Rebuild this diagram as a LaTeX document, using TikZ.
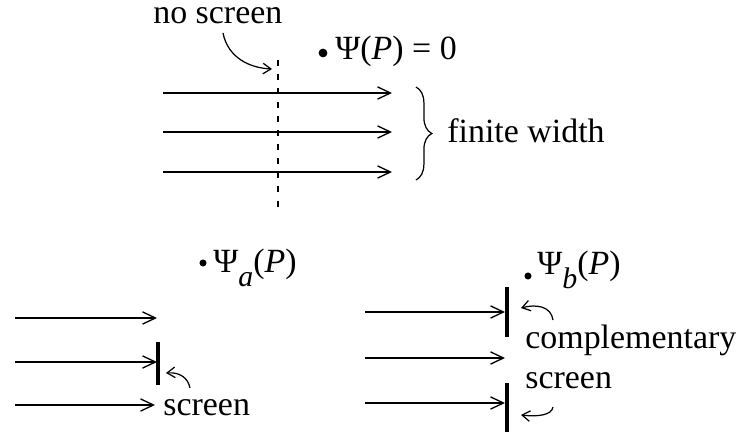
\documentclass[tikz,border=0pt]{standalone}
\usepackage{fontspec}
\setmainfont{Liberation Serif}
\usetikzlibrary{arrows.meta,decorations.pathreplacing}

\begin{document}
\begin{tikzpicture}[
  x=0.02cm,y=-0.02cm,
  font=\fontsize{19.3}{23}\selectfont,
  ray/.style={-{Straight Barb[length=7.4pt,width=7pt]},line width=0.75pt},
  pointer/.style={-{Straight Barb[length=4.5pt,width=6pt]},line width=0.7pt},
  screenbar/.style={line width=2.8pt},
  dot/.style={circle,fill,inner sep=0pt,minimum size=4pt},
  lbl/.style={anchor=base west,inner sep=0pt}
]
\useasboundingbox (0,0) rectangle (740,435);

% ---------- Top: no screen
\node[lbl,text height=0.5em] (noscr) at (153,24) {no screen};
\draw[dash pattern=on 3.4pt off 4.6pt,line width=0.6pt] (278,60) coordinate (dtop) -- (278,212) coordinate (dbot);
\coordinate (noscrtip) at (272,69);
\draw[pointer] (223,33) .. controls (228,58) and (250,68) .. (noscrtip);
\node[dot,minimum size=5pt] (p0) at (323,53) {};
\node[lbl] (psi0) at (335,60) {Ψ(\textit{P}) = 0};
\foreach \y [count=\i] in {93,132,172}{
  \coordinate (ts\i) at (163,\y);
  \coordinate (te\i) at (392,\y);
  \draw[ray] (ts\i) -- (te\i);
}
\draw[decorate,decoration={brace,amplitude=9pt},line width=0.7pt] (416,87) coordinate (bt) -- (416,180) coordinate (bb);
\node[lbl] (width) at (447,143) {finite width};

% ---------- Bottom left: screen
\node[dot] (pa) at (203,263) {};
\node[lbl] (psia) at (213,273) {Ψ\raisebox{-0.4em}{\fontsize{17}{20}\selectfont\textit{a}}(\textit{P})};
\foreach \y/\e [count=\i] in {318/157,362/157,405/155}{
  \coordinate (as\i) at (15,\y);
  \coordinate (ae\i) at (\e,\y);
  \draw[ray] (as\i) -- (ae\i);
}
\draw[screenbar] (158,342) coordinate (sa1) -- (158,385) coordinate (sa2);
\node[lbl] (scra) at (163,415) {screen};
\draw[pointer] (190,388) .. controls (188,378) and (180,372) .. (166,373);

% ---------- Bottom right: complementary screen
\node[dot] (pb) at (528,276) {};
\node[lbl] (psib) at (537,275) {Ψ\raisebox{-0.4em}{\fontsize{17}{20}\selectfont\textit{b}}(\textit{P})};
\foreach \y [count=\i] in {312,358,403}{
  \coordinate (bs\i) at (365,\y);
  \coordinate (be\i) at (505,\y);
  \draw[ray] (bs\i) -- (be\i);
}
\draw[screenbar] (507,287) coordinate (sb1) -- (507,337) coordinate (sb2);
\draw[screenbar] (507,383) coordinate (sb3) -- (507,432) coordinate (sb4);
\node[lbl] (comp) at (525,349) {complementary};
\node[lbl] (scrb) at (525,388) {screen};
\draw[pointer] (553,320) .. controls (551,306) and (536,304) .. (521,308);
\draw[pointer] (553,407) .. controls (552,415) and (538,417) .. (521,415);
\end{tikzpicture}
\end{document}
